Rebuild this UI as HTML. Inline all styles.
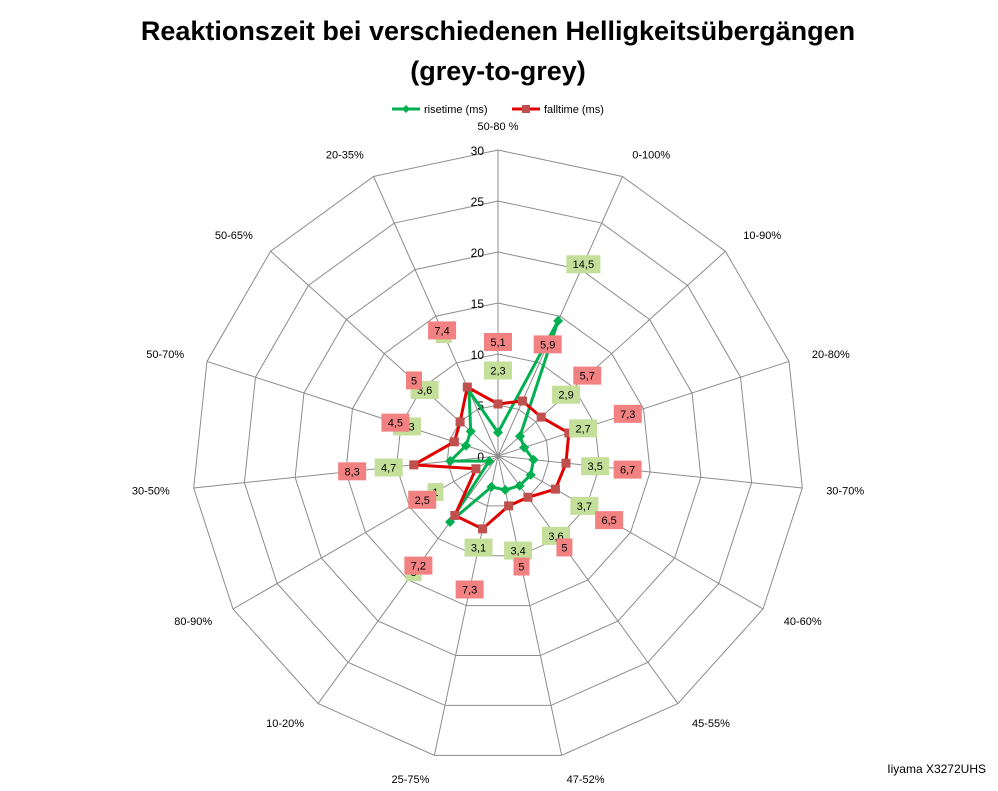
<!DOCTYPE html>
<html><head><meta charset="utf-8"><style>
body{margin:0;background:#fff;font-family:"Liberation Sans",sans-serif}
svg text{font-family:"Liberation Sans",sans-serif}
</style></head><body>
<svg id="chart" width="998" height="786" xmlns="http://www.w3.org/2000/svg">
<text x="498" y="40" text-anchor="middle" font-size="27" font-weight="bold">Reaktionszeit bei verschiedenen Helligkeitsübergängen</text>
<text x="498" y="80" text-anchor="middle" font-size="27" font-weight="bold">(grey-to-grey)</text>
<g>
<line x1="392" y1="109" x2="420" y2="109" stroke="#00b050" stroke-width="3"/>
<path d="M406 105 L410 109 L406 113 L402 109Z" fill="#00b050"/>
<text x="424" y="113" font-size="11">risetime (ms)</text>
<line x1="512" y1="109" x2="540" y2="109" stroke="#e00000" stroke-width="3"/>
<rect x="522" y="105" width="8" height="8" fill="#c0504d"/>
<text x="544" y="113" font-size="11">falltime (ms)</text>
</g>
<g id="grid"></g><g id="series"></g><g id="labels"></g>
<text x="986" y="773" text-anchor="end" font-size="12">Iiyama X3272UHS</text>
</svg>
<script>
const categories=["50-80 %","0-100%","10-90%","20-80%","30-70%","40-60%","45-55%","47-52%","25-75%","10-20%","80-90%","30-50%","50-70%","50-65%","20-35%"];
const rise=[2.3,14.5,2.9,2.7,3.5,3.7,3.6,3.4,3.1,8,1,4.7,3.3,3.6,7];
const fall=[5.1,5.9,5.7,7.3,6.7,6.5,5,5,7.3,7.2,2.5,8.3,4.5,5,7.4];
const ticks=[0,5,10,15,20,25,30];
const NS="http://www.w3.org/2000/svg";
const cx=498,cy=456,R=306,maxV=30;
function ang(i){return (i*2*Math.PI/categories.length);}
function pt(i,v){const r=v/maxV*R,a=ang(i);return [cx+r*Math.sin(a),cy-r*Math.cos(a)];}
function mk(tag,attrs,parent){const e=document.createElementNS(NS,tag);for(const k in attrs)e.setAttribute(k,attrs[k]);parent.appendChild(e);return e;}
const grid=document.getElementById('grid'),series=document.getElementById('series'),labels=document.getElementById('labels');
ticks.slice(1).forEach(t=>{
 const p=mk('polygon',{points:categories.map((c,i)=>pt(i,t).join(',')).join(' '),fill:'none',stroke:'#8c8c8c','stroke-width':1},grid);
 
 
});
categories.forEach((c,i)=>{
 const [x,y]=pt(i,maxV);
 const l=mk('line',{x1:cx,y1:cy,x2:x,y2:y,stroke:'#8c8c8c','stroke-width':1},grid);
 
 
 const a=ang(i),lr=R+24;
 const lx=cx+lr*Math.sin(a),ly=cy-lr*Math.cos(a)+4;
 const s=Math.sin(a);
 const t=mk('text',{x:lx,y:ly,'font-size':11,'text-anchor':Math.abs(s)<0.1?'middle':(s>0?'start':'end')},grid);
 t.textContent=c;
 
 
});
ticks.forEach(t=>{
 const e=mk('text',{x:cx-14,y:cy-t/maxV*R+5,'font-size':12,'text-anchor':'end'},grid);
 e.textContent=t;
 
 
});
function drawSeries(vals,color,mcolor,shape,boxColor,name){
 const pl=mk('polygon',{points:vals.map((v,i)=>pt(i,v).join(',')).join(' '),fill:'none',stroke:color,'stroke-width':3,'stroke-linejoin':'round'},series);
 
 
 vals.forEach((v,i)=>{
  const [x,y]=pt(i,v);
  let m;
  if(shape==='d') m=mk('path',{d:`M${x} ${y-5}L${x+5} ${y}L${x} ${y+5}L${x-5} ${y}Z`,fill:mcolor},series);
  else m=mk('rect',{x:x-4.5,y:y-4.5,width:9,height:9,fill:mcolor},series);
  
  
  const a=ang(i),r=v/maxV*R+62;
  const lx=cx+r*Math.sin(a),ly=cy-r*Math.cos(a);
  const txt=String(v).replace('.',',');
  const w=txt.length*6+10;
  const b=mk('rect',{x:lx-w/2,y:ly-9,width:w,height:18,fill:boxColor},labels);
  
  
  const t=mk('text',{x:lx,y:ly+4,'font-size':11,'text-anchor':'middle'},labels);
  t.textContent=txt;
  
  
 });
}
drawSeries(rise,'#00b050','#00b050','d','#c3df99','risetime');
drawSeries(fall,'#e00000','#c0504d','s','#f28282','falltime');
</script>
</body></html>
